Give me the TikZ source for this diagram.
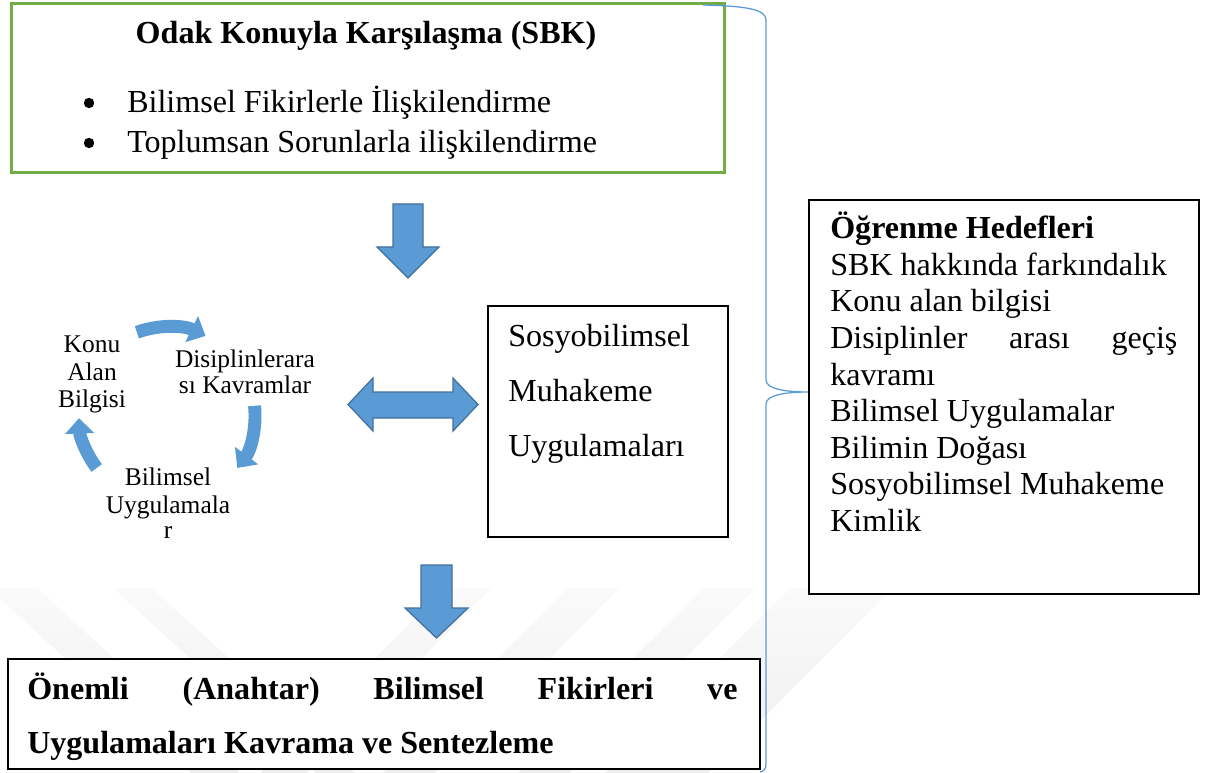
\documentclass[tikz,border=0pt]{standalone}
\usepackage{fontspec}
\setmainfont{Liberation Serif}
\usetikzlibrary{arrows.meta}

\definecolor{framegreen}{HTML}{70AD47}
\definecolor{flowblue}{HTML}{5B9BD5}
\definecolor{flowedge}{HTML}{41719C}
\definecolor{bracecol}{HTML}{5B9BD5}
\definecolor{stripetop}{HTML}{FAFAFA}
\definecolor{stripebot}{HTML}{EEEEEE}

% 1 unit = 1 px of the layout grid (y grows downwards)
\newcommand\mainsize{\fontsize{22.8pt}{25.6pt}\selectfont}
\newcommand\cyclesize{\fontsize{18.1pt}{19.6pt}\selectfont}

\tikzset{
  panel/.style={draw=black, line width=1.4pt, fill=white, inner sep=0pt, anchor=north west},
  greenpanel/.style={draw=framegreen, line width=2.1pt, fill=white, inner sep=0pt, anchor=north west},
  txt/.style={inner sep=0pt, anchor=base west, font=\mainsize},
  ctxt/.style={inner sep=0pt, anchor=base, font=\cyclesize},
  dot/.style={circle, fill=black, inner sep=0pt, minimum size=0.26cm},
  blockarrow/.style={fill=flowblue, draw=flowedge, line width=0.9pt, line join=miter},
  cyclearrow/.style={draw=flowblue, line width=9.2pt,
    -{Triangle[length=11pt, width=20pt]}},
  bracket/.style={draw=bracecol, line width=0.9pt},
  stripeband/.style={top color=stripetop, bottom color=stripebot},
}

\begin{document}
\begin{tikzpicture}[x=0.025cm, y=-0.025cm]
\useasboundingbox (0,0) rectangle (1214,773);

% faint diagonal stripes in the lower part of the page
\begin{scope}
  \clip (0,0) rectangle (1214,773);
  \shade[stripeband] (-12,588) -- (37,588) -- ++(203,185) -- ++(-49,0) -- cycle;
  \shade[stripeband] (113,588) -- (152,588) -- ++(203,185) -- ++(-39,0) -- cycle;
  \shade[stripeband] (445,588) -- (492,588) -- ++(-185,185) -- ++(-47,0) -- cycle;
  \shade[stripeband] (568,588) -- (620,588) -- ++(-185,185) -- ++(-52,0) -- cycle;
  \shade[stripeband] (703,588) -- (755,588) -- ++(-185,185) -- ++(-52,0) -- cycle;
  \shade[stripeband] (790,588) -- (893,588) -- ++(-185,185) -- ++(-103,0) -- cycle;
\end{scope}

% ---------- top panel ----------
\node[greenpanel, minimum width=17.825cm, minimum height=4.225cm] (sbk) at (10,2) {};
\node[inner sep=0pt, anchor=base, font=\mainsize\bfseries] (sbktitle) at (366,44) {Odak Konuyla Karşılaşma (SBK)};
\node[dot] (bulA) at (89,103) {};
\node[txt] (itemA) at (127,113) {Bilimsel Fikirlerle İlişkilendirme};
\node[dot] (bulB) at (89,143) {};
\node[txt] (itemB) at (127,153) {Toplumsan Sorunlarla ilişkilendirme};

% ---------- reasoning panel ----------
\node[panel, minimum width=6cm, minimum height=5.775cm] (sbm) at (487,305) {};
\node[txt] (sbmA) at (508,346) {Sosyobilimsel};
\node[txt] (sbmB) at (508,401) {Muhakeme};
\node[txt] (sbmC) at (508,456) {Uygulamaları};

% ---------- learning goals panel ----------
\node[panel, minimum width=9.75cm, minimum height=9.85cm] (goals) at (808,199) {};
\node[txt, font=\mainsize\bfseries] (g0) at (830,239) {Öğrenme Hedefleri};
\node[txt] (g1) at (830,275.5) {SBK hakkında farkındalık};
\node[txt] (g2) at (830,312) {Konu alan bilgisi};
\node[txt] (g3) at (830,348.5) {\hbox to 8.675cm{Disiplinler\hfill arası\hfill geçiş}};
\node[txt] (g4) at (830,385) {kavramı};
\node[txt] (g5) at (830,421.5) {Bilimsel Uygulamalar};
\node[txt] (g6) at (830,458) {Bilimin Doğası};
\node[txt] (g7) at (830,494.5) {Sosyobilimsel Muhakeme};
\node[txt] (g8) at (830,531) {Kimlik};

% ---------- synthesis panel ----------
\node[panel, minimum width=18.8cm, minimum height=2.75cm] (synth) at (7,658) {};
\node[txt, font=\mainsize\bfseries] (synA) at (27,699)
  {\hbox to 17.75cm{Önemli\hfill (Anahtar)\hfill Bilimsel\hfill Fikirleri\hfill ve}};
\node[txt, font=\mainsize\bfseries] (synB) at (27,753) {Uygulamaları Kavrama ve Sentezleme};

% ---------- block arrows ----------
\draw[blockarrow] (393,204) -- (423,204) -- (423,247) -- (439,247) -- (408,278)
  -- (377,247) -- (393,247) -- cycle;
\draw[blockarrow] (348,404.5) -- (373,378) -- (373,392) -- (453,392) -- (453,378)
  -- (478,404.5) -- (453,431) -- (453,418) -- (373,418) -- (373,431) -- cycle;
\draw[blockarrow] (421,565) -- (452,565) -- (452,608) -- (468,608) -- (436.5,638)
  -- (405,608) -- (421,608) -- cycle;

% ---------- cycle ----------
\coordinate (hub) at (167,415);
\draw[cyclearrow] (hub) ++(-110:88) arc[start angle=-110, end angle=-64, radius=88];
\draw[cyclearrow] (hub) ++(-6:88) arc[start angle=-6, end angle=37, radius=88];
\draw[cyclearrow] (hub) ++(143:88) arc[start angle=143, end angle=178, radius=88];

\node[ctxt] (konuA) at (92,352) {Konu};
\node[ctxt] (konuB) at (92,380) {Alan};
\node[ctxt] (konuC) at (92,407) {Bilgisi};
\node[ctxt] (disA) at (245,367) {Disiplinlerara};
\node[ctxt] (disB) at (245,393) {sı Kavramlar};
\node[ctxt] (bilA) at (168,485) {Bilimsel};
\node[ctxt] (bilB) at (168,513) {Uygulamala};
\node[ctxt] (bilC) at (168,538) {r};

% ---------- bracket ----------
\coordinate (brtop) at (703,5);
\coordinate (brtip) at (808,392);
\coordinate (brend) at (760,772);
\draw[bracket] (brtop) .. controls (745,6) and (766,9) .. (766,20) -- (766,380)
  .. controls (766,390) and (790,392) .. (brtip)
  .. controls (790,392) and (766,394) .. (766,404) -- (766,764)
  .. controls (766,769) and (764,771) .. (brend);
\end{tikzpicture}
\end{document}
